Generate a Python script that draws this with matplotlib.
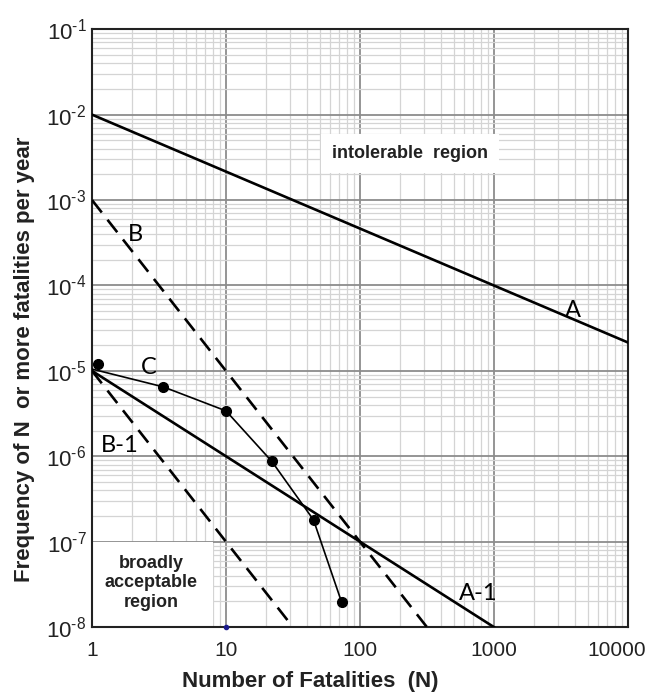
import numpy as np
import matplotlib
matplotlib.use('Agg')
import matplotlib.pyplot as plt
from matplotlib.patches import Rectangle
from matplotlib.transforms import ScaledTranslation

plt.rcParams['font.family'] = ['Liberation Sans', 'DejaVu Sans']
plt.rcParams['mathtext.fontset'] = 'custom'
plt.rcParams['mathtext.rm'] = 'Liberation Sans'
plt.rcParams['mathtext.it'] = 'Liberation Sans'

# criterion lines (endpoints in N, frequency)
a_n = [1, 10000]
a_f = [1e-2, 2.15e-5]
a1_n = [1, 1000]
a1_f = [1e-5, 1e-8]
b_n = [1, 316]
b_f = [1e-3, 1e-8]
b1_n = [1, 31.6]
b1_f = [1e-5, 1e-8]

# F-N curve C
c_n = [1.1, 3.4, 10, 22, 45, 73]
c_f = [1.2e-5, 6.5e-6, 3.4e-6, 8.7e-7, 1.8e-7, 1.95e-8]

x_ticks = [1, 10, 100, 1000, 10000]
x_labels = ['1', '10', '100', '1000', '10000']
y_ticks = [1e-8, 1e-7, 1e-6, 1e-5, 1e-4, 1e-3, 1e-2, 1e-1]
y_labels = ['$10^{\\text{-}%d}$' % k for k in range(8, 0, -1)]

fig = plt.figure(figsize=(6.48, 6.96), dpi=100)
ax = fig.add_axes([0.142, 0.099, 0.827, 0.859])
ax.set_xscale('log')
ax.set_yscale('log')
ax.set_xlim(1, 10000)
ax.set_ylim(1e-8, 1e-1)

# grid
ax.set_axisbelow(True)
ax.grid(True, which='major', color='#8c8c8c', linewidth=1.3)
ax.grid(True, which='minor', color='#d4d4d4', linewidth=0.9)

# white box for broadly acceptable region
ax.add_patch(Rectangle((1, 1e-8), 7.0, 9e-8, facecolor='white',
                       edgecolor='none', zorder=1))

lw = 1.9
dash = (0, (6, 3.5))
ax.plot(a_n, a_f, color='black', lw=lw, zorder=3)
ax.plot(a1_n, a1_f, color='black', lw=lw, zorder=3)
ax.plot(b_n, b_f, color='black', lw=lw, linestyle=dash, zorder=3)
ax.plot(b1_n, b1_f, color='black', lw=lw, linestyle=dash, zorder=3)
ax.plot([1] + c_n[1:], [1.05e-5] + c_f[1:], color='black', lw=1.2, zorder=3)
ax.plot(c_n, c_f, 'o', color='black', markersize=7, zorder=4)
ax.plot([10], [1e-8], 'o', color='#1a1a8c', markersize=3, zorder=5, clip_on=False)

# line labels
lab = dict(fontsize=17, family=['Lato', 'DejaVu Sans'], ha='center', va='center', zorder=5)
ax.text(3900, 5.1e-5, 'A', **lab)
ax.text(2.1, 4.0e-4, 'B', **lab)
ax.text(2.66, 1.1e-5, 'C', **lab)
ax.text(1.62, 1.33e-6, 'B-1', **lab)
ax.text(760, 2.5e-8, 'A-1', **lab)

ax.text(236, 3.5e-3, 'intolerable  region', fontsize=13, fontweight='bold',
        ha='center', va='center', color='#222222', zorder=5,
        bbox=dict(facecolor='white', edgecolor='none', pad=8))
ax.text(2.75, 3.3e-8, 'broadly\nacceptable\nregion', fontsize=13,
        fontweight='bold', ha='center', va='center', color='#222222',
        linespacing=1.2, zorder=5)

ax.set_xticks(x_ticks)
ax.set_xticklabels(x_labels)
ax.set_yticks(y_ticks)
ax.set_yticklabels(y_labels)
ax.tick_params(which='both', length=0)
ax.tick_params(axis='x', labelsize=15, pad=10, colors='#222222')
ax.tick_params(axis='y', labelsize=16, pad=4, colors='#222222')
last = ax.get_xticklabels()[-1]
last.set_transform(last.get_transform() + ScaledTranslation(-0.11, 0, fig.dpi_scale_trans))

fig.text(310 / 648, 1 - 681 / 696, 'Number of Fatalities  (N)', fontsize=16,
         fontweight='bold', ha='center', va='center', color='#222222')
fig.text(25 / 648, 1 - 359 / 696, 'Frequency of N  or more fatalities per year',
         fontsize=16, fontweight='bold', ha='center', va='center',
         rotation=90, color='#222222')

for s in ax.spines.values():
    s.set_linewidth(1.5)
    s.set_color('#222222')

fig.savefig('out.png', dpi=100)
